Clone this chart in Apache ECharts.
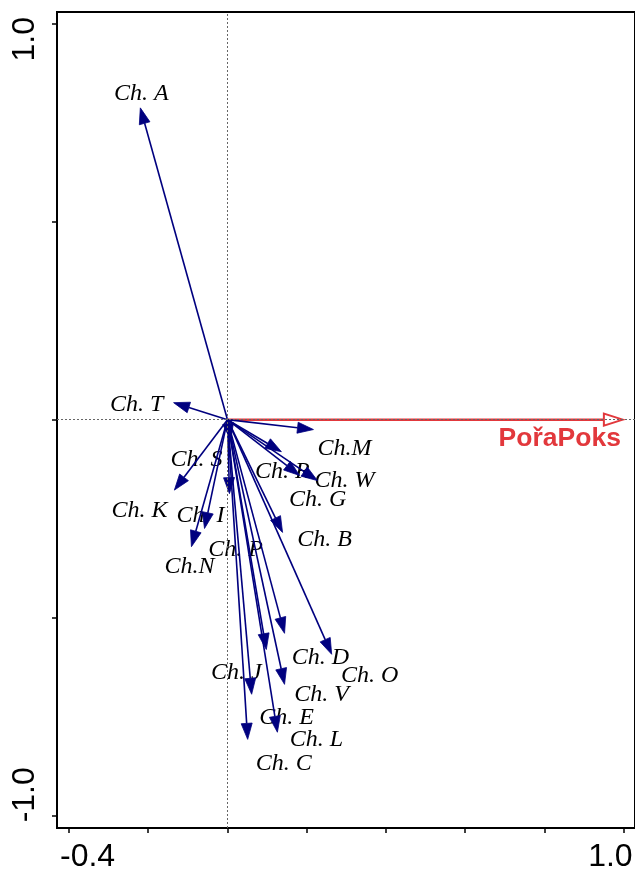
<!DOCTYPE html>
<html>
<head>
<meta charset="utf-8">
<script src="https://cdn.jsdelivr.net/npm/echarts@6/dist/echarts.min.js"></script>
<style>
  html, body { margin: 0; padding: 0; background: #fff; }
  #chart { width: 635px; height: 873px; }
</style>
</head>
<body>
<div id="chart"></div>
<script>
// Species vectors (ordination axis 1 / axis 2 scores)
const speciesNames = ['Ch. A', 'Ch. T', 'Ch.M', 'Ch. R', 'Ch. G', 'Ch. W', 'Ch. S', 'Ch. K', 'Ch. I', 'Ch.N',
                      'Ch. P', 'Ch. B', 'Ch. D', 'Ch. O', 'Ch. J', 'Ch. V', 'Ch. E', 'Ch. L', 'Ch. C'];
const speciesAxis1 = [-0.220, -0.136, 0.217, 0.136, 0.182, 0.227, 0.005, -0.134, -0.058, -0.091,
                      0.008, 0.139, 0.144, 0.263, 0.098, 0.144, 0.061, 0.126, 0.051];
const speciesAxis2 = [0.788, 0.043, -0.025, -0.081, -0.141, -0.154, -0.187, -0.178, -0.275, -0.321,
                      -0.050, -0.285, -0.540, -0.593, -0.581, -0.669, -0.694, -0.790, -0.808];

// Environmental variable vector
const envNames = ['PořaPoks'];
const envAxis1 = [0.998];
const envAxis2 = [0.0];

// Axis ticks and labelled ticks
const xTicks = [-0.4, -0.2, 0, 0.2, 0.4, 0.6, 0.8, 1.0];
const xLabelTicks = [-0.4, 1.0];
const yTicks = [-1.0, -0.5, 0, 0.5, 1.0];
const yLabelTicks = [-1.0, 1.0];

// Label placement relative to each arrow tip, in pixels [dx, dy]
const labelShift = {
  'Ch. A': [1, -14], 'Ch. T': [-37, 2], 'Ch.M': [31, 19], 'Ch. R': [1, 20], 'Ch. G': [18, 24],
  'Ch. W': [27, 0], 'Ch. S': [-33, -34], 'Ch. K': [-35, 21], 'Ch. I': [-4, -13], 'Ch.N': [-2, 20],
  'Ch. P': [5, 110], 'Ch. B': [42, 7], 'Ch. D': [36, 24], 'Ch. O': [38, 21], 'Ch. J': [-30, 23],
  'Ch. V': [37, 10], 'Ch. E': [35, 23], 'Ch. L': [39, 7], 'Ch. C': [36, 24]
};

const speciesData = speciesNames.map((n, i) => [speciesAxis1[i], speciesAxis2[i], n]);
const envData = envNames.map((n, i) => [envAxis1[i], envAxis2[i], n]);

const BLUE = '#00007f';
const RED = '#e2383c';

function headPoints(o, t, hl, hw) {
  const dx = t[0] - o[0], dy = t[1] - o[1];
  const len = Math.hypot(dx, dy) || 1;
  const ux = dx / len, uy = dy / len;
  const bx = t[0] - ux * hl, by = t[1] - uy * hl;
  return {
    base: [bx, by],
    pts: [[t[0], t[1]], [bx - uy * hw, by + ux * hw], [bx + uy * hw, by - ux * hw]]
  };
}

function renderSpecies(params, api) {
  const o = api.coord([0, 0]);
  const t = api.coord([api.value(0), api.value(1)]);
  const name = speciesNames[params.dataIndex];
  const h = headPoints(o, t, 16, 5.5);
  const sh = labelShift[name] || [0, 0];
  return {
    type: 'group',
    children: [
      { type: 'text', z2: 1,
        style: { text: name, x: t[0] + sh[0], y: t[1] + sh[1], align: 'center', verticalAlign: 'middle',
                 font: 'italic 24px "Liberation Serif", "Times New Roman", serif', fill: '#000' } },
      { type: 'line', z2: 2, shape: { x1: o[0], y1: o[1], x2: h.base[0], y2: h.base[1] },
        style: { stroke: BLUE, lineWidth: 1.6 } },
      { type: 'polygon', z2: 2, shape: { points: h.pts }, style: { fill: BLUE, stroke: BLUE, lineWidth: 0.8 } }
    ]
  };
}

function renderEnv(params, api) {
  const o = api.coord([0, 0]);
  const t = api.coord([api.value(0), api.value(1)]);
  const h = headPoints(o, t, 19, 6);
  return {
    type: 'group',
    children: [
      { type: 'line', shape: { x1: o[0], y1: o[1], x2: h.base[0], y2: h.base[1] },
        style: { stroke: RED, lineWidth: 2.5 } },
      { type: 'polygon', shape: { points: h.pts }, style: { fill: 'none', stroke: RED, lineWidth: 2 } },
      { type: 'text',
        style: { text: envNames[params.dataIndex], x: t[0] - 2, y: t[1] + 19, align: 'right', verticalAlign: 'middle',
                 font: 'bold 26.5px "Liberation Sans", Arial, sans-serif', fill: RED } }
    ]
  };
}

// End labels sit slightly beyond their tick: a narrow label box anchored at the tick,
// with the text overflowing it outward.
function endLabel(ticks) {
  return v => (Math.abs(v - ticks[0]) < 1e-9 ? '{lo|' : '{hi|') + v.toFixed(1) + '}';
}

const chart = echarts.init(document.getElementById('chart'), null, { renderer: 'canvas' });

chart.setOption({
  animation: false,
  backgroundColor: '#fff',
  grid: {
    left: 57, top: 12, right: 0, bottom: 45,
    containLabel: false, outerBoundsMode: 'none',
    show: true, borderColor: '#000', borderWidth: 2
  },
  xAxis: {
    type: 'value', min: -0.4303, max: 1.0286,
    axisLine: { show: true, onZero: false, lineStyle: { color: '#000', width: 2 } },
    axisTick: { show: true, inside: false, length: 5, customValues: xTicks, lineStyle: { color: '#000', width: 1.5 } },
    axisLabel: {
      customValues: xLabelTicks, formatter: endLabel(xLabelTicks),
      fontSize: 32, fontFamily: '"Liberation Sans", Arial, sans-serif', color: '#000', margin: 13,
      width: 9, overflow: 'none',
      alignMinLabel: 'right', alignMaxLabel: 'left',
      rich: { lo: { align: 'left' }, hi: { align: 'right' } }
    },
    splitLine: { show: false }
  },
  yAxis: {
    type: 'value', min: -1.032, max: 1.0303,
    axisLine: { show: true, onZero: false, lineStyle: { color: '#000', width: 2 } },
    axisTick: { show: true, inside: false, length: 5, customValues: yTicks, lineStyle: { color: '#000', width: 1.5 } },
    axisLabel: {
      customValues: yLabelTicks, formatter: endLabel(yLabelTicks), rotate: 90,
      fontSize: 32, fontFamily: '"Liberation Sans", Arial, sans-serif', color: '#000', margin: 16,
      width: 7, overflow: 'none',
      alignMinLabel: 'right', alignMaxLabel: 'left',
      rich: { lo: { align: 'left' }, hi: { align: 'right' } }
    },
    splitLine: { show: false }
  },
  series: [
    {
      // zero reference lines
      type: 'line', data: [], silent: true,
      markLine: {
        silent: true, symbol: 'none', animation: false,
        label: { show: false },
        lineStyle: { type: [2, 2], color: '#666', width: 1 },
        data: [{ xAxis: 0 }, { yAxis: 0 }]
      }
    },
    { type: 'custom', name: 'env', renderItem: renderEnv, data: envData, silent: true, z: 3 },
    { type: 'custom', name: 'species', renderItem: renderSpecies, data: speciesData, silent: true, z: 4 }
  ]
});
</script>
</body>
</html>
